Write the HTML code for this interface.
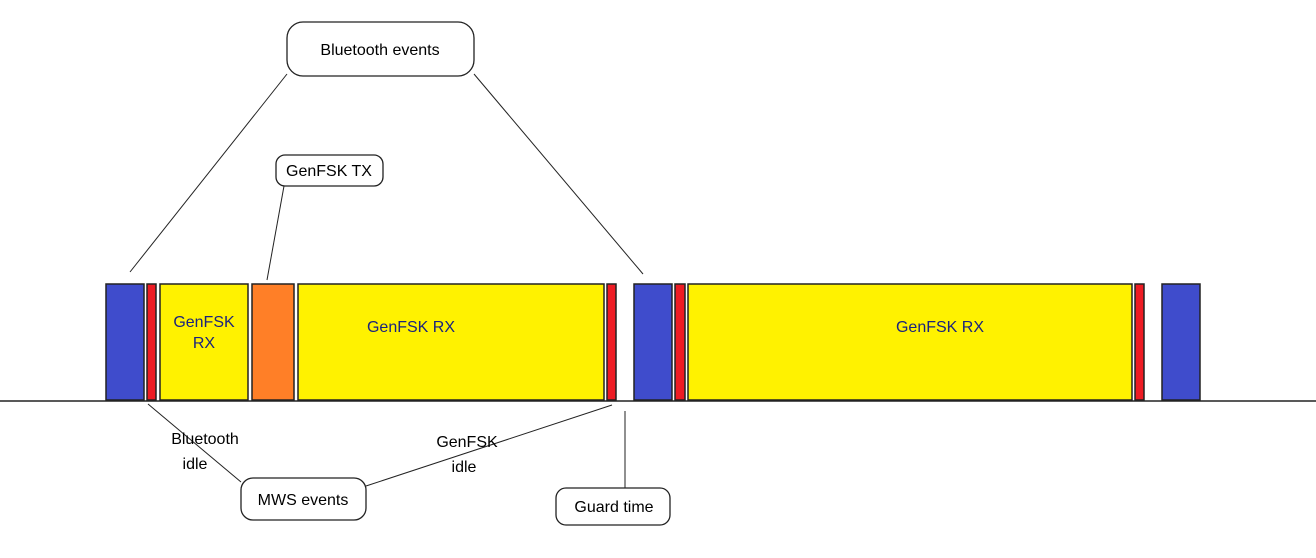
<!DOCTYPE html>
<html><head><meta charset="utf-8"><style>
body{margin:0;background:#fff}
svg text{font-family:"Liberation Sans",sans-serif;font-size:16px;fill:#000}
.in{fill:#1a237e}
</style></head><body>
<svg width="1316" height="553" viewBox="0 0 1316 553">
<g stroke="#222" stroke-width="1.5">
<rect x="106" y="284" width="38" height="116" fill="#3f4ccc"/>
<rect x="147" y="284" width="9" height="116" fill="#ee1c24"/>
<rect x="160" y="284" width="88" height="116" fill="#fff200"/>
<rect x="252" y="284" width="42" height="116" fill="#ff7f27"/>
<rect x="298" y="284" width="306" height="116" fill="#fff200"/>
<rect x="607" y="284" width="9" height="116" fill="#ee1c24"/>
<rect x="634" y="284" width="38" height="116" fill="#3f4ccc"/>
<rect x="675" y="284" width="10" height="116" fill="#ee1c24"/>
<rect x="688" y="284" width="444" height="116" fill="#fff200"/>
<rect x="1135" y="284" width="9" height="116" fill="#ee1c24"/>
<rect x="1162" y="284" width="38" height="116" fill="#3f4ccc"/>
</g>
<line x1="0" y1="401" x2="1316" y2="401" stroke="#222" stroke-width="1.5"/>
<text class="in" x="204" y="327" text-anchor="middle">GenFSK</text>
<text class="in" x="204" y="348" text-anchor="middle">RX</text>
<text class="in" x="411" y="332" text-anchor="middle">GenFSK RX</text>
<text class="in" x="940" y="332" text-anchor="middle">GenFSK RX</text>
<g stroke="#222" stroke-width="1" fill="none">
<line x1="287" y1="74" x2="130" y2="272"/>
<line x1="474" y1="74" x2="643" y2="274"/>
<line x1="284" y1="186" x2="267" y2="280"/>
<line x1="148" y1="404" x2="241" y2="482"/>
<line x1="366" y1="486" x2="612" y2="405"/>
<line x1="625" y1="411" x2="625" y2="488"/>
</g>
<g stroke="#222" stroke-width="1.3" fill="#fff">
<rect x="287" y="22" width="187" height="54" rx="16"/>
<rect x="276" y="155" width="107" height="31" rx="9"/>
<rect x="241" y="478" width="125" height="42" rx="12"/>
<rect x="556" y="488" width="114" height="37" rx="10"/>
</g>
<text x="380" y="55" text-anchor="middle">Bluetooth events</text>
<text x="329" y="176" text-anchor="middle">GenFSK TX</text>
<text x="303" y="505" text-anchor="middle">MWS events</text>
<text x="614" y="512" text-anchor="middle">Guard time</text>
<text x="205" y="444" text-anchor="middle">Bluetooth</text>
<text x="195" y="469" text-anchor="middle">idle</text>
<text x="467" y="447" text-anchor="middle">GenFSK</text>
<text x="464" y="472" text-anchor="middle">idle</text>
</svg>
</body></html>
